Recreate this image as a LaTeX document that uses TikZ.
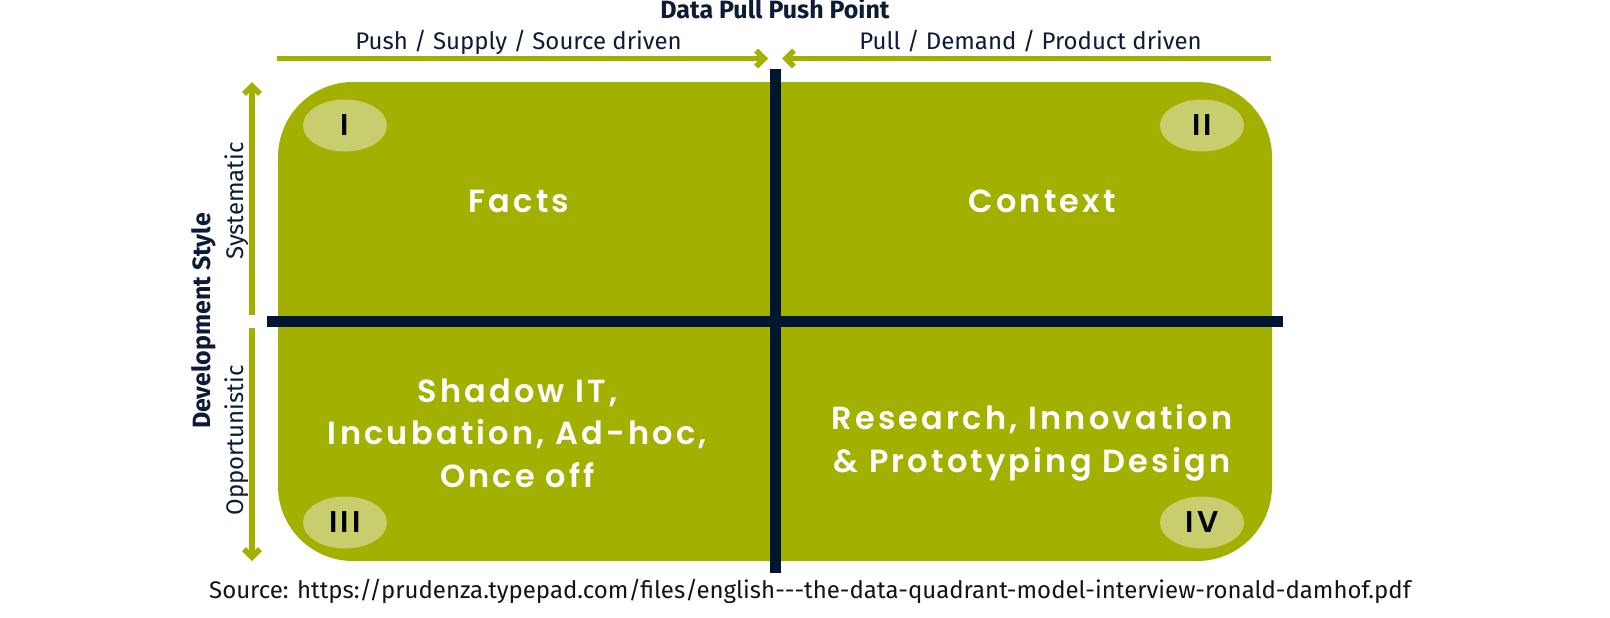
\documentclass[tikz,border=0pt]{standalone}
\usepackage{fontspec}
\setmainfont{Fira Sans}
\newfontfamily\quadfont[LetterSpace=10]{Poppins SemiBold}
\usetikzlibrary{arrows.meta,shapes.geometric}
\definecolor{olive}{HTML}{A2B000}
\definecolor{lightolive}{HTML}{C8CE6E}
\definecolor{navy}{HTML}{001530}
\definecolor{labelnavy}{HTML}{0D1B36}
\definecolor{sourcegray}{HTML}{141414}
\begin{document}
\begin{tikzpicture}[x=0.5pt,y=-0.5pt,
  axisarrow/.style={draw=olive, line width=2.75pt, -{Straight Barb[sharp,length=4pt,width=8pt]}},
  divider/.style={draw=navy, line width=5.5pt},
  numeral/.style={ellipse, fill=lightolive, minimum width=42pt, minimum height=26pt, inner sep=0pt,
    font=\quadfont\fontsize{15}{18}\selectfont, text=black},
  quadtext/.style={text=white, align=center, inner sep=0pt,
    font=\quadfont\fontsize{16}{21.3}\selectfont},
  axislabel/.style={text=labelnavy, inner sep=0pt, font=\fontsize{12}{14}\selectfont},
  axistitle/.style={text=labelnavy, inner sep=0pt, font=\bfseries\fontsize{12.5}{14}\selectfont},
]
\useasboundingbox (0,0) rectangle (1610,617);
\fill[white] (0,0) rectangle (1610,617);

% quadrant field
\fill[olive, rounded corners=37.5pt] (278,82) rectangle (1272,561);

% dividers
\coordinate (hl) at (267,321);
\coordinate (hr) at (1283,321);
\coordinate (vt) at (775,69);
\coordinate (vb) at (775,573);
\draw[divider] (hl) -- (hr);
\draw[divider] (vt) -- (vb);

% axis arrows
\coordinate (pushstart) at (277,58.5);
\coordinate (pushtip) at (768,58.5);
\coordinate (pullstart) at (1271,58.5);
\coordinate (pulltip) at (782,58.5);
\coordinate (upstart) at (252,315);
\coordinate (uptip) at (252,82);
\coordinate (downstart) at (252,328);
\coordinate (downtip) at (252,561);
\draw[axisarrow] (pushstart) -- (pushtip);
\draw[axisarrow] (pullstart) -- (pulltip);
\draw[axisarrow] (upstart) -- (uptip);
\draw[axisarrow] (downstart) -- (downtip);

% labels
\node[axistitle, anchor=base] (title) at (775,18.5) {Data Pull Push Point};
\node[axislabel, anchor=base] (push) at (518.5,49) {Push / Supply / Source driven};
\node[axislabel, anchor=base] (pull) at (1030.5,49) {Pull / Demand / Product driven};
\node[axislabel, anchor=base, rotate=90] (sys) at (243,201) {Systematic};
\node[axislabel, anchor=base, rotate=90] (opp) at (243,440.5) {Opportunistic};
\node[axistitle, anchor=base, rotate=90] (dev) at (210,321) {Development Style};
\node[axislabel, anchor=base, text=sourcegray] (source) at (810,598)
  {Source: https://prudenza.typepad.com/files/english-{}-{}-the-data-quadrant-model-interview-ronald-damhof.pdf};

% numerals
\node[numeral] (q1) at (345,125.5) {I};
\node[numeral] (q2) at (1202,125.5) {II};
\node[numeral] (q3) at (345,522.5) {III};
\node[numeral] (q4) at (1202,522.5) {IV};

% quadrant texts
\node[quadtext] (facts) at (519,201) {Facts};
\node[quadtext] (context) at (1042,201) {Context};
\node[quadtext] (shadow) at (517.5,433) {Shadow IT,\\Incubation, Ad-hoc,\\Once off};
\node[quadtext] (research) at (1032,443) {Research, Innovation\\\& Prototyping Design};
\end{tikzpicture}
\end{document}
